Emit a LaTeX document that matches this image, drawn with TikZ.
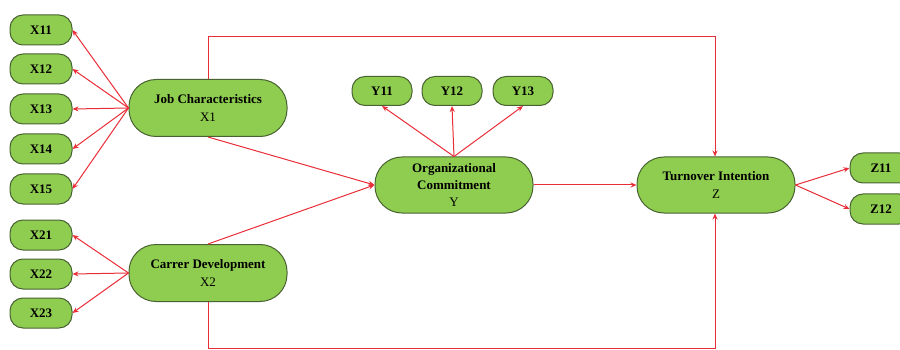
\documentclass[tikz,border=0pt]{standalone}
\usepackage{fontspec}
\setmainfont{Liberation Serif}
\usetikzlibrary{arrows.meta}
\definecolor{boxgreen}{RGB}{143,205,80}
\definecolor{boxedge}{RGB}{72,98,50}
\definecolor{linkred}{RGB}{232,45,55}
\tikzset{
  small/.style={draw=boxedge, fill=boxgreen, line width=1pt, rounded corners=13pt,
    minimum width=62pt, minimum height=30pt, inner sep=0pt,
    font=\fontsize{13}{15}\selectfont\bfseries},
  big/.style={draw=boxedge, fill=boxgreen, line width=1pt, rounded corners=27pt,
    minimum width=158pt, minimum height=57pt, inner sep=0pt, align=center,
    font=\fontsize{13}{18}\selectfont},
  arr/.style={draw=linkred, line width=1pt, -{Stealth[length=6pt,width=5pt]}}
}
\begin{document}
\begin{tikzpicture}[x=1pt,y=-1pt]
\useasboundingbox (0,0) rectangle (900,350);
\clip (0,0) rectangle (900,350);
% indicator boxes
\node[small] (X11) at (41,30) {X11};
\node[small] (X12) at (41,69) {X12};
\node[small] (X13) at (41,109) {X13};
\node[small] (X14) at (41,149) {X14};
\node[small] (X15) at (41,189) {X15};
\node[small] (X21) at (41,235) {X21};
\node[small] (X22) at (41,274) {X22};
\node[small] (X23) at (41,313) {X23};
\node[small, minimum width=60pt, minimum height=29pt] (Y11) at (382,91) {Y11};
\node[small, minimum width=60pt, minimum height=29pt] (Y12) at (452,91) {Y12};
\node[small, minimum width=60pt, minimum height=29pt] (Y13) at (523,91) {Y13};
\node[small] (Z11) at (881,168) {Z11};
\node[small] (Z12) at (881,209) {Z12};
% construct boxes
\node[big] (X1) at (208,108) {\textbf{Job Characteristics}\\X1};
\node[big] (X2) at (208,273) {\textbf{Carrer Development}\\X2};
\node[big, minimum height=56pt] (Y) at (454,185) {\textbf{Organizational}\\[-1pt]\textbf{Commitment}\\[-1pt]Y};
\node[big, minimum height=56pt] (Z) at (716,185) {\textbf{Turnover Intention}\\Z};
% helper coordinates
\coordinate (t1) at (208,37);
\coordinate (t2) at (715,37);
\coordinate (b1) at (208,348);
\coordinate (b2) at (715,348);
% connectors
\foreach \n in {X11,X12,X13,X14,X15} \draw[arr] (X1.west) -- (\n.east);
\foreach \n in {X21,X22,X23} \draw[arr] (X2.west) -- (\n.east);
\foreach \n in {Y11,Y12,Y13} \draw[arr] (Y.north) -- (\n.south);
\foreach \n in {Z11,Z12} \draw[arr] (Z.east) -- (\n.west);
\draw[arr] (X1.south) -- (Y.west);
\draw[arr] (X2.north) -- (Y.west);
\draw[arr] (Y.east) -- (Z.west);
\draw[arr] (X1.north) -- (t1) -- (t2) -- (Z.north -| t2);
\draw[arr] (X2.south) -- (b1) -- (b2) -- (Z.south -| b2);
\end{tikzpicture}
\end{document}
